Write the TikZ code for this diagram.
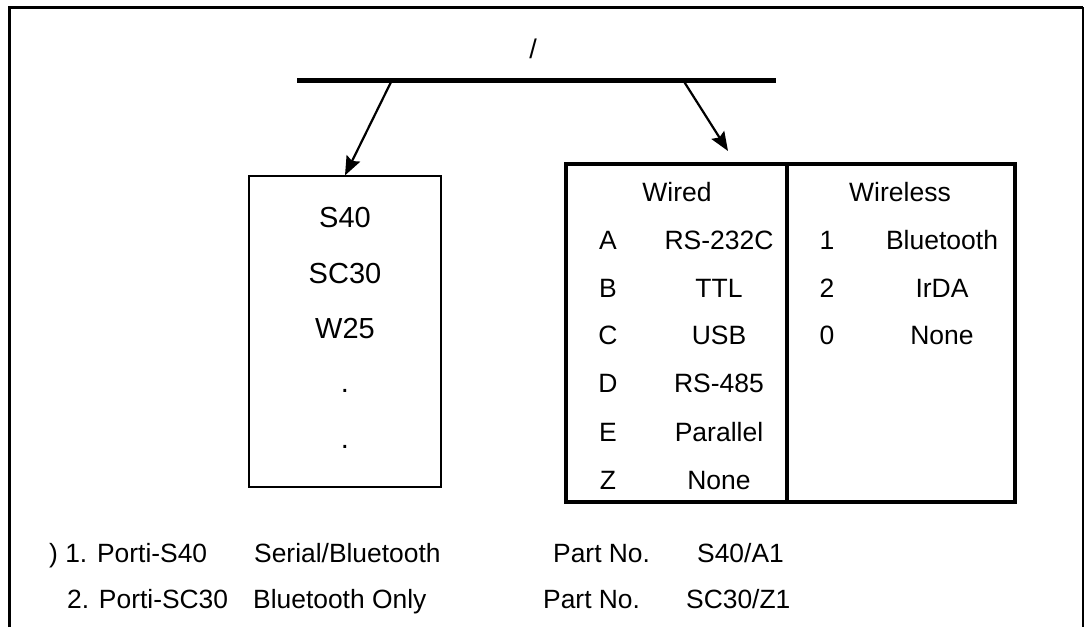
\documentclass[tikz,border=0pt]{standalone}
\usepackage{fontspec}
\setmainfont{Liberation Sans}
\usepackage{tikz}
\usetikzlibrary{calc}
\usetikzlibrary{arrows.meta,positioning}

\newcommand{\mdlfont}{\fontsize{29}{32}\selectfont}
\newcommand{\tblfont}{\fontsize{26.5}{29}\selectfont}
\newcommand{\notefont}{\fontsize{26.4}{29}\selectfont}

\tikzset{
	txt/.style={inner sep=0pt, anchor=base},
	note/.style={inner sep=0pt, anchor=base west, font=\notefont},
	arr/.style={line width=2.2pt, -{Stealth[length=19pt,width=15pt,inset=3pt]}},
	tblcol/.style={draw, line width=4pt, inner sep=0pt, minimum height=338pt},
}

\begin{document}
\begin{tikzpicture}[x=1pt,y=-1pt]
			\useasboundingbox (0,0) rectangle (1089,627);
			%frame, open at the bottom
			\draw[line width=3pt] (9,627) -- (9,7) -- (1083,7);
			\draw[line width=2pt] (1083,7) -- (1083,627);

			\node[txt, font=\fontsize{27}{30}\selectfont] (slash) at (533,58) {/};

			%bus
			\coordinate (busL) at (297,80);
			\coordinate (busR) at (776,80);
			\coordinate (busa) at (392,80);
			\coordinate (busb) at (683,80);
			\draw[line width=5pt] (busL) -- (busR);

			%models
			\node[draw, line width=1.2pt, minimum width=192pt, minimum height=311pt, inner sep=0pt] (models) at (345,331.5) {};
			\foreach \t/\y [count=\i] in {S40/227, SC30/283, W25/338, ./392, ./448}
				\node[txt, font=\mdlfont] (m\i) at (345,\y) {\t};

			%interfaces
			\node[tblcol, minimum width=221pt] (wired) at (676.5,333) {};
			\node[tblcol, minimum width=228pt] (wireless) at (901,333) {};
			\node[txt, font=\tblfont] (hw) at (677,201) {Wired};
			\node[txt, font=\tblfont] (hwl) at (900,201) {Wireless};
			\foreach \k/\v/\y in {A/RS-232C/249, B/TTL/297, C/USB/344, D/RS-485/392, E/Parallel/441, Z/None/489} {
				\node[txt, font=\tblfont] (k\k) at (608,\y) {\k};
				\node[txt, font=\tblfont] (v\k) at (719,\y) {\v};
			}
			\foreach \k/\v/\y in {1/Bluetooth/249, 2/IrDA/297, 0/None/344} {
				\node[txt, font=\tblfont] (n\k) at (827,\y) {\k};
				\node[txt, font=\tblfont] (w\k) at (942,\y) {\v};
			}

			\coordinate (tipb) at (728,151);
			\draw[arr] (busa) -- (models.north);
			\draw[arr] (busb) -- (tipb);

			%examples
			\node[note] (ex1) at (49,562) {) 1. Porti-S40};
			\node[note] (ex1b) at (254,562) {Serial/Bluetooth};
			\node[note] (ex1c) at (553,562) {Part No.};
			\node[note] (ex1d) at (697,562) {S40/A1};
			\node[note] (ex2) at (67,608) {2. Porti-SC30};
			\node[note] (ex2b) at (253,608) {Bluetooth Only};
			\node[note] (ex2c) at (543,608) {Part No.};
			\node[note] (ex2d) at (686,608) {SC30/Z1};
\end{tikzpicture}
\end{document}
